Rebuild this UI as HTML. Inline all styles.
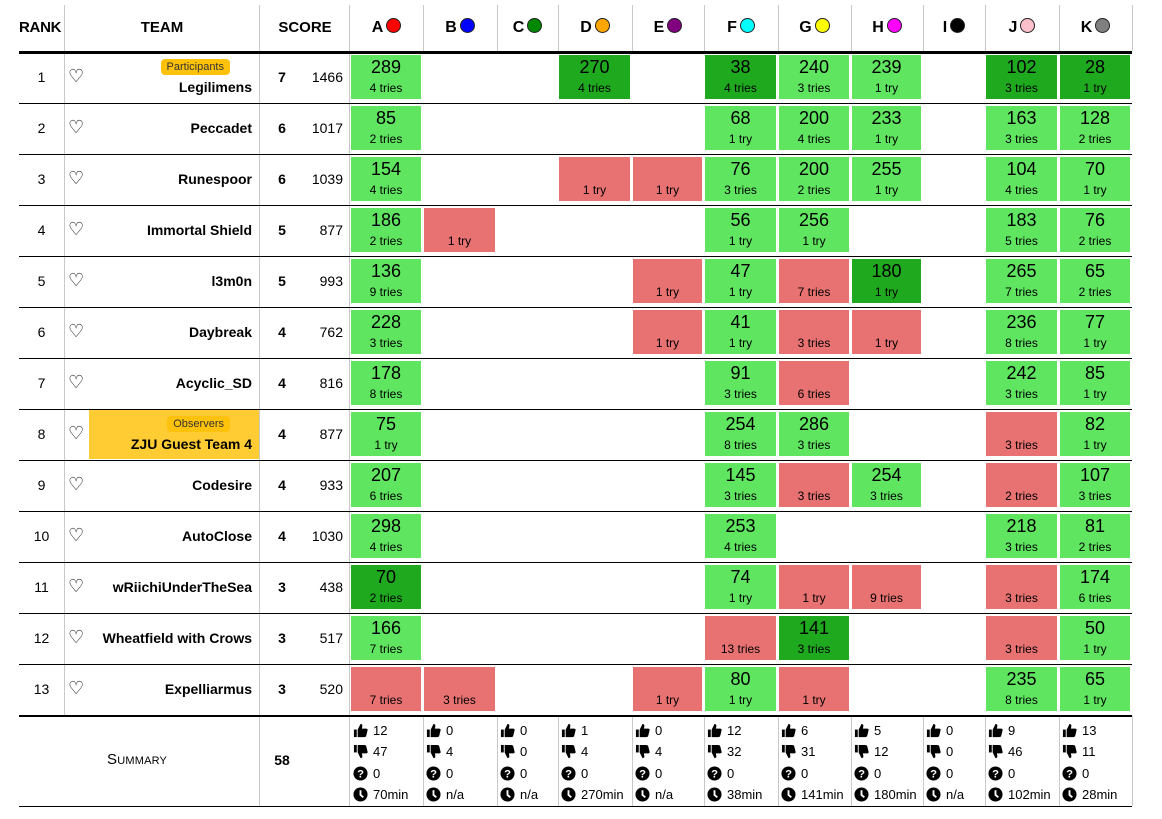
<!DOCTYPE html>
<html><head><meta charset="utf-8"><style>
body{margin:0;width:1162px;height:819px;background:#fff;font-family:"Liberation Sans",Arial,sans-serif;color:#000;position:relative;overflow:hidden}
div{position:absolute;box-sizing:border-box}
.vl{width:1px;background:#c8c8c8}
.hl{left:19px;width:1113px;height:1px;background:#000}
.h{top:5px;height:46px;font-weight:bold;font-size:15px;line-height:46px;text-align:center}
.h b{display:inline-block;width:15px;height:15px;border-radius:50%;border:1px solid #222;vertical-align:-1px;margin-left:3px;box-sizing:border-box}
.c{height:44px;text-align:center;font-size:18px;line-height:22px;padding-top:1px}
.c i{display:block;font-style:normal;font-size:12px;line-height:20px}
.g{background:#5fe55f}.d{background:#1fa91f}.r{background:#e87272}
.rk{left:19px;width:45px;text-align:center;font-size:14px;height:51px;line-height:51px}
.ht{left:68px;font-size:18px;height:51px;line-height:49px;font-family:"DejaVu Sans",sans-serif;font-weight:bold}
.tn{right:910px;font-size:14px;font-weight:bold;height:51px;line-height:51px;white-space:nowrap}
.so{left:262px;width:40px;text-align:center;font-size:14px;font-weight:bold;height:51px;line-height:51px}
.pe{left:300px;width:43px;text-align:right;font-size:14px;height:51px;line-height:51px}
.bd{right:932px;font-size:11px;background:#ffc20a;border-radius:4px;padding:0 6px;height:16px;line-height:16px;color:#333}
.sm{top:720px;font-size:13px;line-height:21.3px;white-space:nowrap}
.sm svg{width:15px;height:15px;vertical-align:-3px;margin-right:5px}
</style></head><body>
<!-- header -->
<div class="h" style="left:19px;width:45px;font-size:15px;text-align:left;letter-spacing:-0.3px">RANK</div>
<div class="h" style="left:64px;width:196px">TEAM</div>
<div class="h" style="left:260px;width:90px">SCORE</div>
<div class="h" style="left:350px;width:73px;font-size:16px">A<b style="background:#f00"></b></div>
<div class="h" style="left:423px;width:74px;font-size:16px">B<b style="background:#00f"></b></div>
<div class="h" style="left:497px;width:61px;font-size:16px">C<b style="background:#080"></b></div>
<div class="h" style="left:558px;width:74px;font-size:16px">D<b style="background:#ffa500"></b></div>
<div class="h" style="left:632px;width:72px;font-size:16px">E<b style="background:#800080"></b></div>
<div class="h" style="left:704px;width:74px;font-size:16px">F<b style="background:#0ff"></b></div>
<div class="h" style="left:778px;width:73px;font-size:16px">G<b style="background:#ff0"></b></div>
<div class="h" style="left:851px;width:72px;font-size:16px">H<b style="background:#f0f"></b></div>
<div class="h" style="left:923px;width:62px;font-size:16px">I<b style="background:#000"></b></div>
<div class="h" style="left:985px;width:74px;font-size:16px">J<b style="background:#ffc0cb"></b></div>
<div class="h" style="left:1059px;width:73px;font-size:16px">K<b style="background:#808080"></b></div>
<!-- vertical lines -->
<div class="vl" style="left:64px;top:5px;height:710px"></div>
<div class="vl" style="left:259px;top:5px;height:801px"></div>
<div class="vl" style="left:349px;top:5px;height:801px"></div>
<div class="vl" style="left:423px;top:5px;height:46px"></div><div class="vl" style="left:497px;top:5px;height:46px"></div><div class="vl" style="left:558px;top:5px;height:46px"></div><div class="vl" style="left:632px;top:5px;height:46px"></div><div class="vl" style="left:704px;top:5px;height:46px"></div><div class="vl" style="left:778px;top:5px;height:46px"></div><div class="vl" style="left:851px;top:5px;height:46px"></div><div class="vl" style="left:923px;top:5px;height:46px"></div><div class="vl" style="left:985px;top:5px;height:46px"></div><div class="vl" style="left:1059px;top:5px;height:46px"></div><div class="vl" style="left:1132px;top:5px;height:46px"></div>
<div class="vl" style="left:423px;top:716px;height:90px"></div><div class="vl" style="left:497px;top:716px;height:90px"></div><div class="vl" style="left:558px;top:716px;height:90px"></div><div class="vl" style="left:632px;top:716px;height:90px"></div><div class="vl" style="left:704px;top:716px;height:90px"></div><div class="vl" style="left:778px;top:716px;height:90px"></div><div class="vl" style="left:851px;top:716px;height:90px"></div><div class="vl" style="left:923px;top:716px;height:90px"></div><div class="vl" style="left:985px;top:716px;height:90px"></div><div class="vl" style="left:1059px;top:716px;height:90px"></div><div class="vl" style="left:1132px;top:716px;height:90px"></div>
<!-- horizontal lines -->
<div class="hl" style="top:51px;height:3px"></div>
<div class="hl" style="top:103px"></div><div class="hl" style="top:154px"></div><div class="hl" style="top:205px"></div><div class="hl" style="top:256px"></div><div class="hl" style="top:307px"></div><div class="hl" style="top:358px"></div><div class="hl" style="top:409px"></div><div class="hl" style="top:460px"></div><div class="hl" style="top:511px"></div><div class="hl" style="top:562px"></div><div class="hl" style="top:613px"></div><div class="hl" style="top:664px"></div>
<div class="hl" style="top:715px;height:2px"></div>
<div class="hl" style="top:806px"></div>
<!-- observers bg -->
<div style="left:89px;top:410px;width:170px;height:49px;background:#ffcc33"></div>

<!-- row text -->
<div class="rk" style="top:52px">1</div><div class="ht" style="top:52px">♡</div><div class="bd" style="top:59px">Participants</div><div class="tn" style="top:62px">Legilimens</div><div class="so" style="top:52px">7</div><div class="pe" style="top:52px">1466</div>
<div class="rk" style="top:103px">2</div><div class="ht" style="top:103px">♡</div><div class="tn" style="top:103px">Peccadet</div><div class="so" style="top:103px">6</div><div class="pe" style="top:103px">1017</div>
<div class="rk" style="top:154px">3</div><div class="ht" style="top:154px">♡</div><div class="tn" style="top:154px">Runespoor</div><div class="so" style="top:154px">6</div><div class="pe" style="top:154px">1039</div>
<div class="rk" style="top:205px">4</div><div class="ht" style="top:205px">♡</div><div class="tn" style="top:205px">Immortal Shield</div><div class="so" style="top:205px">5</div><div class="pe" style="top:205px">877</div>
<div class="rk" style="top:256px">5</div><div class="ht" style="top:256px">♡</div><div class="tn" style="top:256px">l3m0n</div><div class="so" style="top:256px">5</div><div class="pe" style="top:256px">993</div>
<div class="rk" style="top:307px">6</div><div class="ht" style="top:307px">♡</div><div class="tn" style="top:307px">Daybreak</div><div class="so" style="top:307px">4</div><div class="pe" style="top:307px">762</div>
<div class="rk" style="top:358px">7</div><div class="ht" style="top:358px">♡</div><div class="tn" style="top:358px">Acyclic_SD</div><div class="so" style="top:358px">4</div><div class="pe" style="top:358px">816</div>
<div class="rk" style="top:409px">8</div><div class="ht" style="top:409px">♡</div><div class="bd" style="top:416px">Observers</div><div class="tn" style="top:419px">ZJU Guest Team 4</div><div class="so" style="top:409px">4</div><div class="pe" style="top:409px">877</div>
<div class="rk" style="top:460px">9</div><div class="ht" style="top:460px">♡</div><div class="tn" style="top:460px">Codesire</div><div class="so" style="top:460px">4</div><div class="pe" style="top:460px">933</div>
<div class="rk" style="top:511px">10</div><div class="ht" style="top:511px">♡</div><div class="tn" style="top:511px">AutoClose</div><div class="so" style="top:511px">4</div><div class="pe" style="top:511px">1030</div>
<div class="rk" style="top:562px">11</div><div class="ht" style="top:562px">♡</div><div class="tn" style="top:562px">wRiichiUnderTheSea</div><div class="so" style="top:562px">3</div><div class="pe" style="top:562px">438</div>
<div class="rk" style="top:613px">12</div><div class="ht" style="top:613px">♡</div><div class="tn" style="top:613px">Wheatfield with Crows</div><div class="so" style="top:613px">3</div><div class="pe" style="top:613px">517</div>
<div class="rk" style="top:664px">13</div><div class="ht" style="top:664px">♡</div><div class="tn" style="top:664px">Expelliarmus</div><div class="so" style="top:664px">3</div><div class="pe" style="top:664px">520</div>

<!-- row1 -->
<div class="c g" style="left:351px;width:70px;top:55px">289<i>4 tries</i></div>
<div class="c d" style="left:559px;width:71px;top:55px">270<i>4 tries</i></div>
<div class="c d" style="left:705px;width:71px;top:55px">38<i>4 tries</i></div>
<div class="c g" style="left:779px;width:70px;top:55px">240<i>3 tries</i></div>
<div class="c g" style="left:852px;width:69px;top:55px">239<i>1 try</i></div>
<div class="c d" style="left:986px;width:71px;top:55px">102<i>3 tries</i></div>
<div class="c d" style="left:1060px;width:70px;top:55px">28<i>1 try</i></div>
<!-- row2 -->
<div class="c g" style="left:351px;width:70px;top:106px">85<i>2 tries</i></div>
<div class="c g" style="left:705px;width:71px;top:106px">68<i>1 try</i></div>
<div class="c g" style="left:779px;width:70px;top:106px">200<i>4 tries</i></div>
<div class="c g" style="left:852px;width:69px;top:106px">233<i>1 try</i></div>
<div class="c g" style="left:986px;width:71px;top:106px">163<i>3 tries</i></div>
<div class="c g" style="left:1060px;width:70px;top:106px">128<i>2 tries</i></div>
<!-- row3 -->
<div class="c g" style="left:351px;width:70px;top:157px">154<i>4 tries</i></div>
<div class="c r" style="left:559px;width:71px;top:157px">&nbsp;<i>1 try</i></div>
<div class="c r" style="left:633px;width:69px;top:157px">&nbsp;<i>1 try</i></div>
<div class="c g" style="left:705px;width:71px;top:157px">76<i>3 tries</i></div>
<div class="c g" style="left:779px;width:70px;top:157px">200<i>2 tries</i></div>
<div class="c g" style="left:852px;width:69px;top:157px">255<i>1 try</i></div>
<div class="c g" style="left:986px;width:71px;top:157px">104<i>4 tries</i></div>
<div class="c g" style="left:1060px;width:70px;top:157px">70<i>1 try</i></div>
<!-- row4 -->
<div class="c g" style="left:351px;width:70px;top:208px">186<i>2 tries</i></div>
<div class="c r" style="left:424px;width:71px;top:208px">&nbsp;<i>1 try</i></div>
<div class="c g" style="left:705px;width:71px;top:208px">56<i>1 try</i></div>
<div class="c g" style="left:779px;width:70px;top:208px">256<i>1 try</i></div>
<div class="c g" style="left:986px;width:71px;top:208px">183<i>5 tries</i></div>
<div class="c g" style="left:1060px;width:70px;top:208px">76<i>2 tries</i></div>
<!-- row5 -->
<div class="c g" style="left:351px;width:70px;top:259px">136<i>9 tries</i></div>
<div class="c r" style="left:633px;width:69px;top:259px">&nbsp;<i>1 try</i></div>
<div class="c g" style="left:705px;width:71px;top:259px">47<i>1 try</i></div>
<div class="c r" style="left:779px;width:70px;top:259px">&nbsp;<i>7 tries</i></div>
<div class="c d" style="left:852px;width:69px;top:259px">180<i>1 try</i></div>
<div class="c g" style="left:986px;width:71px;top:259px">265<i>7 tries</i></div>
<div class="c g" style="left:1060px;width:70px;top:259px">65<i>2 tries</i></div>
<!-- row6 -->
<div class="c g" style="left:351px;width:70px;top:310px">228<i>3 tries</i></div>
<div class="c r" style="left:633px;width:69px;top:310px">&nbsp;<i>1 try</i></div>
<div class="c g" style="left:705px;width:71px;top:310px">41<i>1 try</i></div>
<div class="c r" style="left:779px;width:70px;top:310px">&nbsp;<i>3 tries</i></div>
<div class="c r" style="left:852px;width:69px;top:310px">&nbsp;<i>1 try</i></div>
<div class="c g" style="left:986px;width:71px;top:310px">236<i>8 tries</i></div>
<div class="c g" style="left:1060px;width:70px;top:310px">77<i>1 try</i></div>
<!-- row7 -->
<div class="c g" style="left:351px;width:70px;top:361px">178<i>8 tries</i></div>
<div class="c g" style="left:705px;width:71px;top:361px">91<i>3 tries</i></div>
<div class="c r" style="left:779px;width:70px;top:361px">&nbsp;<i>6 tries</i></div>
<div class="c g" style="left:986px;width:71px;top:361px">242<i>3 tries</i></div>
<div class="c g" style="left:1060px;width:70px;top:361px">85<i>1 try</i></div>
<!-- row8 -->
<div class="c g" style="left:351px;width:70px;top:412px">75<i>1 try</i></div>
<div class="c g" style="left:705px;width:71px;top:412px">254<i>8 tries</i></div>
<div class="c g" style="left:779px;width:70px;top:412px">286<i>3 tries</i></div>
<div class="c r" style="left:986px;width:71px;top:412px">&nbsp;<i>3 tries</i></div>
<div class="c g" style="left:1060px;width:70px;top:412px">82<i>1 try</i></div>
<!-- row9 -->
<div class="c g" style="left:351px;width:70px;top:463px">207<i>6 tries</i></div>
<div class="c g" style="left:705px;width:71px;top:463px">145<i>3 tries</i></div>
<div class="c r" style="left:779px;width:70px;top:463px">&nbsp;<i>3 tries</i></div>
<div class="c g" style="left:852px;width:69px;top:463px">254<i>3 tries</i></div>
<div class="c r" style="left:986px;width:71px;top:463px">&nbsp;<i>2 tries</i></div>
<div class="c g" style="left:1060px;width:70px;top:463px">107<i>3 tries</i></div>
<!-- row10 -->
<div class="c g" style="left:351px;width:70px;top:514px">298<i>4 tries</i></div>
<div class="c g" style="left:705px;width:71px;top:514px">253<i>4 tries</i></div>
<div class="c g" style="left:986px;width:71px;top:514px">218<i>3 tries</i></div>
<div class="c g" style="left:1060px;width:70px;top:514px">81<i>2 tries</i></div>
<!-- row11 -->
<div class="c d" style="left:351px;width:70px;top:565px">70<i>2 tries</i></div>
<div class="c g" style="left:705px;width:71px;top:565px">74<i>1 try</i></div>
<div class="c r" style="left:779px;width:70px;top:565px">&nbsp;<i>1 try</i></div>
<div class="c r" style="left:852px;width:69px;top:565px">&nbsp;<i>9 tries</i></div>
<div class="c r" style="left:986px;width:71px;top:565px">&nbsp;<i>3 tries</i></div>
<div class="c g" style="left:1060px;width:70px;top:565px">174<i>6 tries</i></div>
<!-- row12 -->
<div class="c g" style="left:351px;width:70px;top:616px">166<i>7 tries</i></div>
<div class="c r" style="left:705px;width:71px;top:616px">&nbsp;<i>13 tries</i></div>
<div class="c d" style="left:779px;width:70px;top:616px">141<i>3 tries</i></div>
<div class="c r" style="left:986px;width:71px;top:616px">&nbsp;<i>3 tries</i></div>
<div class="c g" style="left:1060px;width:70px;top:616px">50<i>1 try</i></div>
<!-- row13 -->
<div class="c r" style="left:351px;width:70px;top:667px">&nbsp;<i>7 tries</i></div>
<div class="c r" style="left:424px;width:71px;top:667px">&nbsp;<i>3 tries</i></div>
<div class="c r" style="left:633px;width:69px;top:667px">&nbsp;<i>1 try</i></div>
<div class="c g" style="left:705px;width:71px;top:667px">80<i>1 try</i></div>
<div class="c r" style="left:779px;width:70px;top:667px">&nbsp;<i>1 try</i></div>
<div class="c g" style="left:986px;width:71px;top:667px">235<i>8 tries</i></div>
<div class="c g" style="left:1060px;width:70px;top:667px">65<i>1 try</i></div>

<!-- summary -->
<div style="left:107px;top:751px;font-size:15px;font-variant:small-caps;letter-spacing:0.2px">Summary</div>
<div style="left:262px;width:40px;top:752px;text-align:center;font-size:14px;font-weight:bold">58</div>
<div class="sm" style="left:353px"><svg viewBox="0 0 16 16"><rect x="1" y="7" width="3" height="8"/><path d="M5 7 L8 1 Q10 1 10 3 L9.5 6 L14 6 Q16 6 15.5 8 L14 14 Q13.5 15 12 15 L5 15Z"/></svg>12<br><svg viewBox="0 0 16 16"><rect x="1" y="1" width="3" height="8"/><path d="M5 9 L8 15 Q10 15 10 13 L9.5 10 L14 10 Q16 10 15.5 8 L14 2 Q13.5 1 12 1 L5 1Z"/></svg>47<br><svg viewBox="0 0 16 16"><circle cx="8" cy="8" r="7.5"/><text x="8" y="12.5" font-size="12" font-weight="bold" fill="#fff" text-anchor="middle" font-family="Liberation Sans">?</text></svg>0<br><svg viewBox="0 0 16 16"><circle cx="8" cy="8" r="7.5"/><path d="M8 3.5 V8.5 L11 11" stroke="#fff" stroke-width="2" fill="none"/></svg>70min</div>
<div class="sm" style="left:426px"><svg viewBox="0 0 16 16"><rect x="1" y="7" width="3" height="8"/><path d="M5 7 L8 1 Q10 1 10 3 L9.5 6 L14 6 Q16 6 15.5 8 L14 14 Q13.5 15 12 15 L5 15Z"/></svg>0<br><svg viewBox="0 0 16 16"><rect x="1" y="1" width="3" height="8"/><path d="M5 9 L8 15 Q10 15 10 13 L9.5 10 L14 10 Q16 10 15.5 8 L14 2 Q13.5 1 12 1 L5 1Z"/></svg>4<br><svg viewBox="0 0 16 16"><circle cx="8" cy="8" r="7.5"/><text x="8" y="12.5" font-size="12" font-weight="bold" fill="#fff" text-anchor="middle" font-family="Liberation Sans">?</text></svg>0<br><svg viewBox="0 0 16 16"><circle cx="8" cy="8" r="7.5"/><path d="M8 3.5 V8.5 L11 11" stroke="#fff" stroke-width="2" fill="none"/></svg>n/a</div>
<div class="sm" style="left:500px"><svg viewBox="0 0 16 16"><rect x="1" y="7" width="3" height="8"/><path d="M5 7 L8 1 Q10 1 10 3 L9.5 6 L14 6 Q16 6 15.5 8 L14 14 Q13.5 15 12 15 L5 15Z"/></svg>0<br><svg viewBox="0 0 16 16"><rect x="1" y="1" width="3" height="8"/><path d="M5 9 L8 15 Q10 15 10 13 L9.5 10 L14 10 Q16 10 15.5 8 L14 2 Q13.5 1 12 1 L5 1Z"/></svg>0<br><svg viewBox="0 0 16 16"><circle cx="8" cy="8" r="7.5"/><text x="8" y="12.5" font-size="12" font-weight="bold" fill="#fff" text-anchor="middle" font-family="Liberation Sans">?</text></svg>0<br><svg viewBox="0 0 16 16"><circle cx="8" cy="8" r="7.5"/><path d="M8 3.5 V8.5 L11 11" stroke="#fff" stroke-width="2" fill="none"/></svg>n/a</div>
<div class="sm" style="left:561px"><svg viewBox="0 0 16 16"><rect x="1" y="7" width="3" height="8"/><path d="M5 7 L8 1 Q10 1 10 3 L9.5 6 L14 6 Q16 6 15.5 8 L14 14 Q13.5 15 12 15 L5 15Z"/></svg>1<br><svg viewBox="0 0 16 16"><rect x="1" y="1" width="3" height="8"/><path d="M5 9 L8 15 Q10 15 10 13 L9.5 10 L14 10 Q16 10 15.5 8 L14 2 Q13.5 1 12 1 L5 1Z"/></svg>4<br><svg viewBox="0 0 16 16"><circle cx="8" cy="8" r="7.5"/><text x="8" y="12.5" font-size="12" font-weight="bold" fill="#fff" text-anchor="middle" font-family="Liberation Sans">?</text></svg>0<br><svg viewBox="0 0 16 16"><circle cx="8" cy="8" r="7.5"/><path d="M8 3.5 V8.5 L11 11" stroke="#fff" stroke-width="2" fill="none"/></svg>270min</div>
<div class="sm" style="left:635px"><svg viewBox="0 0 16 16"><rect x="1" y="7" width="3" height="8"/><path d="M5 7 L8 1 Q10 1 10 3 L9.5 6 L14 6 Q16 6 15.5 8 L14 14 Q13.5 15 12 15 L5 15Z"/></svg>0<br><svg viewBox="0 0 16 16"><rect x="1" y="1" width="3" height="8"/><path d="M5 9 L8 15 Q10 15 10 13 L9.5 10 L14 10 Q16 10 15.5 8 L14 2 Q13.5 1 12 1 L5 1Z"/></svg>4<br><svg viewBox="0 0 16 16"><circle cx="8" cy="8" r="7.5"/><text x="8" y="12.5" font-size="12" font-weight="bold" fill="#fff" text-anchor="middle" font-family="Liberation Sans">?</text></svg>0<br><svg viewBox="0 0 16 16"><circle cx="8" cy="8" r="7.5"/><path d="M8 3.5 V8.5 L11 11" stroke="#fff" stroke-width="2" fill="none"/></svg>n/a</div>
<div class="sm" style="left:707px"><svg viewBox="0 0 16 16"><rect x="1" y="7" width="3" height="8"/><path d="M5 7 L8 1 Q10 1 10 3 L9.5 6 L14 6 Q16 6 15.5 8 L14 14 Q13.5 15 12 15 L5 15Z"/></svg>12<br><svg viewBox="0 0 16 16"><rect x="1" y="1" width="3" height="8"/><path d="M5 9 L8 15 Q10 15 10 13 L9.5 10 L14 10 Q16 10 15.5 8 L14 2 Q13.5 1 12 1 L5 1Z"/></svg>32<br><svg viewBox="0 0 16 16"><circle cx="8" cy="8" r="7.5"/><text x="8" y="12.5" font-size="12" font-weight="bold" fill="#fff" text-anchor="middle" font-family="Liberation Sans">?</text></svg>0<br><svg viewBox="0 0 16 16"><circle cx="8" cy="8" r="7.5"/><path d="M8 3.5 V8.5 L11 11" stroke="#fff" stroke-width="2" fill="none"/></svg>38min</div>
<div class="sm" style="left:781px"><svg viewBox="0 0 16 16"><rect x="1" y="7" width="3" height="8"/><path d="M5 7 L8 1 Q10 1 10 3 L9.5 6 L14 6 Q16 6 15.5 8 L14 14 Q13.5 15 12 15 L5 15Z"/></svg>6<br><svg viewBox="0 0 16 16"><rect x="1" y="1" width="3" height="8"/><path d="M5 9 L8 15 Q10 15 10 13 L9.5 10 L14 10 Q16 10 15.5 8 L14 2 Q13.5 1 12 1 L5 1Z"/></svg>31<br><svg viewBox="0 0 16 16"><circle cx="8" cy="8" r="7.5"/><text x="8" y="12.5" font-size="12" font-weight="bold" fill="#fff" text-anchor="middle" font-family="Liberation Sans">?</text></svg>0<br><svg viewBox="0 0 16 16"><circle cx="8" cy="8" r="7.5"/><path d="M8 3.5 V8.5 L11 11" stroke="#fff" stroke-width="2" fill="none"/></svg>141min</div>
<div class="sm" style="left:854px"><svg viewBox="0 0 16 16"><rect x="1" y="7" width="3" height="8"/><path d="M5 7 L8 1 Q10 1 10 3 L9.5 6 L14 6 Q16 6 15.5 8 L14 14 Q13.5 15 12 15 L5 15Z"/></svg>5<br><svg viewBox="0 0 16 16"><rect x="1" y="1" width="3" height="8"/><path d="M5 9 L8 15 Q10 15 10 13 L9.5 10 L14 10 Q16 10 15.5 8 L14 2 Q13.5 1 12 1 L5 1Z"/></svg>12<br><svg viewBox="0 0 16 16"><circle cx="8" cy="8" r="7.5"/><text x="8" y="12.5" font-size="12" font-weight="bold" fill="#fff" text-anchor="middle" font-family="Liberation Sans">?</text></svg>0<br><svg viewBox="0 0 16 16"><circle cx="8" cy="8" r="7.5"/><path d="M8 3.5 V8.5 L11 11" stroke="#fff" stroke-width="2" fill="none"/></svg>180min</div>
<div class="sm" style="left:926px"><svg viewBox="0 0 16 16"><rect x="1" y="7" width="3" height="8"/><path d="M5 7 L8 1 Q10 1 10 3 L9.5 6 L14 6 Q16 6 15.5 8 L14 14 Q13.5 15 12 15 L5 15Z"/></svg>0<br><svg viewBox="0 0 16 16"><rect x="1" y="1" width="3" height="8"/><path d="M5 9 L8 15 Q10 15 10 13 L9.5 10 L14 10 Q16 10 15.5 8 L14 2 Q13.5 1 12 1 L5 1Z"/></svg>0<br><svg viewBox="0 0 16 16"><circle cx="8" cy="8" r="7.5"/><text x="8" y="12.5" font-size="12" font-weight="bold" fill="#fff" text-anchor="middle" font-family="Liberation Sans">?</text></svg>0<br><svg viewBox="0 0 16 16"><circle cx="8" cy="8" r="7.5"/><path d="M8 3.5 V8.5 L11 11" stroke="#fff" stroke-width="2" fill="none"/></svg>n/a</div>
<div class="sm" style="left:988px"><svg viewBox="0 0 16 16"><rect x="1" y="7" width="3" height="8"/><path d="M5 7 L8 1 Q10 1 10 3 L9.5 6 L14 6 Q16 6 15.5 8 L14 14 Q13.5 15 12 15 L5 15Z"/></svg>9<br><svg viewBox="0 0 16 16"><rect x="1" y="1" width="3" height="8"/><path d="M5 9 L8 15 Q10 15 10 13 L9.5 10 L14 10 Q16 10 15.5 8 L14 2 Q13.5 1 12 1 L5 1Z"/></svg>46<br><svg viewBox="0 0 16 16"><circle cx="8" cy="8" r="7.5"/><text x="8" y="12.5" font-size="12" font-weight="bold" fill="#fff" text-anchor="middle" font-family="Liberation Sans">?</text></svg>0<br><svg viewBox="0 0 16 16"><circle cx="8" cy="8" r="7.5"/><path d="M8 3.5 V8.5 L11 11" stroke="#fff" stroke-width="2" fill="none"/></svg>102min</div>
<div class="sm" style="left:1062px"><svg viewBox="0 0 16 16"><rect x="1" y="7" width="3" height="8"/><path d="M5 7 L8 1 Q10 1 10 3 L9.5 6 L14 6 Q16 6 15.5 8 L14 14 Q13.5 15 12 15 L5 15Z"/></svg>13<br><svg viewBox="0 0 16 16"><rect x="1" y="1" width="3" height="8"/><path d="M5 9 L8 15 Q10 15 10 13 L9.5 10 L14 10 Q16 10 15.5 8 L14 2 Q13.5 1 12 1 L5 1Z"/></svg>11<br><svg viewBox="0 0 16 16"><circle cx="8" cy="8" r="7.5"/><text x="8" y="12.5" font-size="12" font-weight="bold" fill="#fff" text-anchor="middle" font-family="Liberation Sans">?</text></svg>0<br><svg viewBox="0 0 16 16"><circle cx="8" cy="8" r="7.5"/><path d="M8 3.5 V8.5 L11 11" stroke="#fff" stroke-width="2" fill="none"/></svg>28min</div>
</body></html>
